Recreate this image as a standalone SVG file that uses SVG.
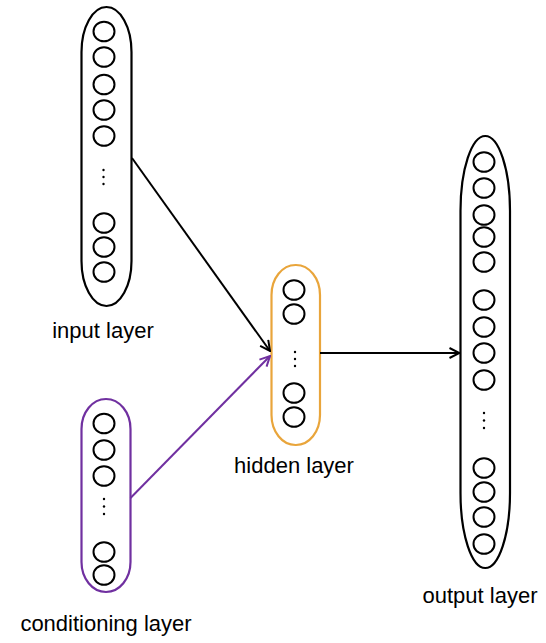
<svg xmlns="http://www.w3.org/2000/svg" width="546" height="643" viewBox="0 0 546 643">
  <style>
    .layer { fill: none; stroke-width: 2.2; }
    .neuron { fill: none; stroke: #000; stroke-width: 2; }
    .dot { fill: #000; }
    .label { font-family: "Liberation Sans", Arial, sans-serif; font-size: 22px; fill: #000; text-anchor: middle; }
    .conn { fill: none; stroke-width: 2; }
  </style>
  <defs>
    <marker id="arrowBlack" viewBox="0 0 12 12" refX="11" refY="6" markerWidth="12" markerHeight="12" markerUnits="userSpaceOnUse" orient="auto">
      <path d="M1,1 L11,6 L1,11" fill="none" stroke="#000" stroke-width="2"/>
    </marker>
    <marker id="arrowPurple" viewBox="0 0 12 12" refX="11" refY="6" markerWidth="12" markerHeight="12" markerUnits="userSpaceOnUse" orient="auto">
      <path d="M1,1 L11,6 L1,11" fill="none" stroke="#7030A0" stroke-width="2"/>
    </marker>
  </defs>
  <rect width="546" height="643" fill="#fff"/>

  <g id="input-layer">
    <rect class="layer" x="81.5" y="7" width="50" height="299" rx="25" ry="45" stroke="#000"/>
    <ellipse class="neuron" cx="104" cy="31.5" rx="10.5" ry="9.8"/>
    <ellipse class="neuron" cx="104" cy="57" rx="10.5" ry="9.8"/>
    <ellipse class="neuron" cx="104" cy="84.5" rx="10.5" ry="9.8"/>
    <ellipse class="neuron" cx="104" cy="110" rx="10.5" ry="9.8"/>
    <ellipse class="neuron" cx="104" cy="136" rx="10.5" ry="9.8"/>
    <circle class="dot" cx="103.5" cy="170" r="1.2"/>
    <circle class="dot" cx="103.5" cy="177" r="1.2"/>
    <circle class="dot" cx="103.5" cy="184" r="1.2"/>
    <ellipse class="neuron" cx="104" cy="223" rx="10.5" ry="9.8"/>
    <ellipse class="neuron" cx="104" cy="247" rx="10.5" ry="9.8"/>
    <ellipse class="neuron" cx="104" cy="272" rx="10.5" ry="9.8"/>
    <text class="label" x="103" y="338">input layer</text>
  </g>

  <g id="conditioning-layer">
    <rect class="layer" x="81.5" y="399" width="49" height="193" rx="24.5" ry="30" stroke="#7030A0"/>
    <ellipse class="neuron" cx="104" cy="423.5" rx="10.5" ry="9.8"/>
    <ellipse class="neuron" cx="104" cy="450" rx="10.5" ry="9.8"/>
    <ellipse class="neuron" cx="104" cy="476" rx="10.5" ry="9.8"/>
    <circle class="dot" cx="104" cy="499" r="1.2"/>
    <circle class="dot" cx="104" cy="506.5" r="1.2"/>
    <circle class="dot" cx="104" cy="514" r="1.2"/>
    <ellipse class="neuron" cx="104" cy="552" rx="10.5" ry="9.8"/>
    <ellipse class="neuron" cx="104" cy="575" rx="10.5" ry="9.8"/>
    <text class="label" x="106" y="631">conditioning layer</text>
  </g>

  <g id="hidden-layer">
    <rect class="layer" x="271.5" y="265" width="48.5" height="180" rx="24" ry="30" stroke="#E9A53B"/>
    <ellipse class="neuron" cx="294" cy="290" rx="10.5" ry="9.8"/>
    <ellipse class="neuron" cx="294" cy="314" rx="10.5" ry="9.8"/>
    <circle class="dot" cx="295" cy="352" r="1.2"/>
    <circle class="dot" cx="295" cy="359" r="1.2"/>
    <circle class="dot" cx="295" cy="366" r="1.2"/>
    <ellipse class="neuron" cx="294" cy="393" rx="10.5" ry="9.8"/>
    <ellipse class="neuron" cx="294" cy="417" rx="10.5" ry="9.8"/>
    <text class="label" x="294" y="473">hidden layer</text>
  </g>

  <g id="output-layer">
    <rect class="layer" x="460.5" y="136" width="49.5" height="432" rx="25" ry="75" stroke="#000"/>
    <ellipse class="neuron" cx="484" cy="162" rx="10.5" ry="9.8"/>
    <ellipse class="neuron" cx="484" cy="188" rx="10.5" ry="9.8"/>
    <ellipse class="neuron" cx="484" cy="215" rx="10.5" ry="9.8"/>
    <ellipse class="neuron" cx="484" cy="237" rx="10.5" ry="9.8"/>
    <ellipse class="neuron" cx="484" cy="262" rx="10.5" ry="9.8"/>
    <ellipse class="neuron" cx="484" cy="300" rx="10.5" ry="9.8"/>
    <ellipse class="neuron" cx="484" cy="327" rx="10.5" ry="9.8"/>
    <ellipse class="neuron" cx="484" cy="353" rx="10.5" ry="9.8"/>
    <ellipse class="neuron" cx="484" cy="380" rx="10.5" ry="9.8"/>
    <circle class="dot" cx="484" cy="413" r="1.2"/>
    <circle class="dot" cx="484" cy="420.5" r="1.2"/>
    <circle class="dot" cx="484" cy="428" r="1.2"/>
    <ellipse class="neuron" cx="484" cy="468" rx="10.5" ry="9.8"/>
    <ellipse class="neuron" cx="484" cy="492" rx="10.5" ry="9.8"/>
    <ellipse class="neuron" cx="484" cy="517" rx="10.5" ry="9.8"/>
    <ellipse class="neuron" cx="484" cy="544" rx="10.5" ry="9.8"/>
    <text class="label" x="480" y="603">output layer</text>
  </g>

  <g id="connectors">
    <line class="conn" x1="132" y1="158" x2="270" y2="351" stroke="#000" marker-end="url(#arrowBlack)"/>
    <line class="conn" x1="130.5" y1="498" x2="270" y2="356" stroke="#7030A0" marker-end="url(#arrowPurple)"/>
    <line class="conn" x1="320" y1="353" x2="459.5" y2="353" stroke="#000" marker-end="url(#arrowBlack)"/>
  </g>
</svg>
